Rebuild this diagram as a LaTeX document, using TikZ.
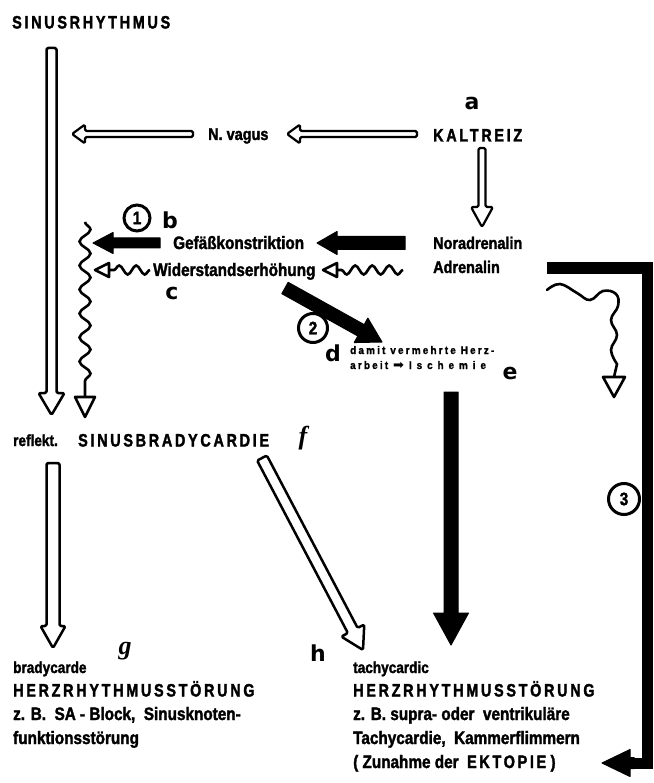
\documentclass[tikz,border=0pt]{standalone}
\usepackage{fontspec}
\setmainfont{Liberation Sans Bold}[FakeStretch=0.85, FakeBold=1.8]
\newfontfamily\lowfont{Liberation Sans Bold}[FakeStretch=0.85, FakeBold=1.8]
\newfontfamily\capsfont{Liberation Sans Bold}[FakeStretch=0.8, LetterSpace=15, FakeBold=1.8]
\newfontfamily\tinyfont{Liberation Sans Bold}[FakeStretch=0.9, LetterSpace=20, FakeBold=1.5]
\newfontfamily\widefont{Liberation Sans Bold}[FakeStretch=0.9, LetterSpace=45, FakeBold=1.5]
\newfontfamily\symfont{DejaVu Sans}
\newfontfamily\markfont{DejaVu Sans Bold}
\newfontfamily\scriptmark{Liberation Serif Bold Italic}
\usetikzlibrary{calc,arrows.meta,decorations.pathmorphing}

% block arrow: [style]{tail}{tip}{half shaft}{half head}{head length}
\newcommand\blockarrow[6][]{%
  \coordinate (hb) at ($(#3)!#6!(#2)$);
  \path[#1] ($(#2)!#4!90:(#3)$) -- ($(hb)!#4!90:(#3)$) -- ($(hb)!#5!90:(#3)$) -- (#3)
    -- ($(hb)!#5!-90:(#3)$) -- ($(hb)!#4!-90:(#3)$) -- ($(#2)!#4!-90:(#3)$) -- cycle;
}
% open triangular head: {base centre}{tip}{half width}
\newcommand\openhead[3]{%
  \draw[line width=2.6pt, fill=white, line join=round]
    ($(#1)!#3!90:(#2)$) -- (#2) -- ($(#1)!#3!-90:(#2)$) -- cycle;
}

\tikzset{
  hollow/.style={draw=black, fill=white, line width=2.2pt, line join=round, rounded corners=1.5pt},
  solidarr/.style={draw=black, fill=black, line width=1pt, line join=round},
  wavy/.style={line width=2.6pt, decorate},
  capsT/.style={inner sep=0pt, anchor=base west, font=\capsfont\fontsize{18}{20}\selectfont},
  lowT/.style={inner sep=0pt, anchor=base west, font=\lowfont\fontsize{18}{20}\selectfont},
  midT/.style={inner sep=0pt, anchor=base west, font=\lowfont\fontsize{16}{18}\selectfont},
  tinyT/.style={inner sep=0pt, anchor=base west, font=\tinyfont\fontsize{11}{12}\selectfont},
  lettermark/.style={inner sep=0pt, font=\markfont\fontsize{22}{22}\selectfont},
  scriptlbl/.style={inner sep=0pt, font=\scriptmark\fontsize{26}{26}\selectfont},
  numcirc/.style={circle, draw, line width=3pt, inner sep=0pt, font=\lowfont\fontsize{18}{18}\selectfont},
}

\begin{document}
\begin{tikzpicture}[x=1pt,y=-1pt]
\useasboundingbox (0,0) rectangle (653,783);

% ---- texts ----
\node[capsT] (sinus) at (12,28.5) {SINUSRHYTHMUS};
\node[lowT, font=\lowfont\fontsize{17}{18}\selectfont] (vagus) at (208,140) {N. vagus};
\node[capsT] (kalt) at (433,141.5) {KALTREIZ};
\node[lowT, font=\lowfont\fontsize{17}{18}\selectfont] (nora) at (433,249) {Noradrenalin};
\node[lowT, font=\lowfont\fontsize{17}{18}\selectfont] (adre) at (433,273) {Adrenalin};
\node[lowT] (gefa) at (173,249) {Gefäßkonstriktion};
\node[lowT] (wider) at (153,276) {Widerstandserhöhung};
\node[tinyT] (damit) at (350,354) {damit vermehrte Herz-};
\node[tinyT] (arbeit) at (350,369) {arbeit {\symfont\fontsize{13}{13}\selectfont ➡} {\widefont Ischemie}};
\node[midT] (reflekt) at (13,446) {reflekt.};
\node[capsT] (brady) at (78,446.5) {SINUSBRADYCARDIE};

\node[midT] (bradyL) at (13,673) {bradycarde};
\node[capsT] (herzL) at (13,696.5) {HERZRHYTHMUSSTÖRUNG};
\node[lowT] (zbL) at (13,720) {z. B.\ \ SA - Block,\ \ Sinusknoten-};
\node[lowT] (funkL) at (13,744) {funktionsstörung};

\node[midT] (tachyR) at (353,673) {tachycardic};
\node[capsT] (herzR) at (353,696.5) {HERZRHYTHMUSSTÖRUNG};
\node[lowT] (zbR) at (353,720) {z. B. supra- oder\ \ ventrikuläre};
\node[lowT] (tachyK) at (353,744) {Tachycardie,\ \ Kammerflimmern};
\node[lowT] (zun) at (353,768) {( Zunahme der\ \ {\capsfont EKTOPIE} )};

% ---- letter marks ----
\node[lettermark] (la) at (472,103) {a};
\node[lettermark] (lb) at (170,220) {b};
\node[lettermark] (lc) at (172,293) {c};
\node[lettermark] (ld) at (333,353) {d};
\node[lettermark] (le) at (510,373) {e};
\node[scriptlbl] (lf) at (303,438) {f};
\node[scriptlbl] (lg) at (125,651) {g};
\node[lettermark] (lh) at (318,653) {h};

% ---- circled numbers ----
\node[numcirc, minimum size=26pt] (n1) at (137,218) {1};
\node[numcirc, minimum size=29pt] (n2) at (313,328) {2};
\node[numcirc, minimum size=31pt] (n3) at (624,499) {3};

% ---- connector end points ----
\coordinate (sinusTail) at (51.5,48);
\coordinate (sinusTip) at (51.5,415);
\coordinate (vagTail) at (193,134);
\coordinate (vagTip) at (72,134);
\coordinate (kaltTail) at (417,134);
\coordinate (kaltTip) at (287,134);
\coordinate (downTail) at (482,148);
\coordinate (downTip) at (482,227);
\coordinate (gefLTail) at (160,243);
\coordinate (gefLTip) at (93,243);
\coordinate (noraTail) at (405,243);
\coordinate (noraTip) at (317,243);
\coordinate (diagTail) at (285,288);
\coordinate (diagTip) at (382,342);
\coordinate (ischTail) at (451,392);
\coordinate (ischTip) at (451,645);
\coordinate (bradyTail) at (53,463);
\coordinate (bradyTip) at (53,648);
\coordinate (tachTail) at (262,458);
\coordinate (tachTip) at (363,650);
\coordinate (br1) at (547,268);
\coordinate (br2) at (647,268);
\coordinate (br3) at (647,763);
\coordinate (br4) at (632,763);
\coordinate (brTail) at (634,763);
\coordinate (brTip) at (602,763);

% ---- hollow block arrows ----
\blockarrow[hollow, line width=2.5pt]{sinusTail}{sinusTip}{5pt}{13pt}{22pt}
\blockarrow[hollow, line width=2.2pt]{vagTail}{vagTip}{3pt}{9.5pt}{13pt}
\blockarrow[hollow, line width=2.2pt]{kaltTail}{kaltTip}{3pt}{9.5pt}{13pt}
\blockarrow[hollow, line width=2.2pt]{downTail}{downTip}{3.5pt}{11pt}{20pt}
\blockarrow[hollow, line width=2.5pt]{bradyTail}{bradyTip}{6.5pt}{12.5pt}{22pt}
\blockarrow[hollow, line width=2.5pt]{tachTail}{tachTip}{5.5pt}{13pt}{22pt}

% ---- solid block arrows ----
\blockarrow[solidarr]{gefLTail}{gefLTip}{5pt}{10.5pt}{20pt}
\blockarrow[solidarr]{noraTail}{noraTip}{6.5pt}{11.5pt}{20pt}
\blockarrow[solidarr]{diagTail}{diagTip}{6.5pt}{14pt}{24pt}
\blockarrow[solidarr]{ischTail}{ischTip}{7pt}{17.5pt}{32pt}
\draw[line width=11pt, line join=miter] (br1) -- (br2) -- (br3) -- (br4);
\blockarrow[solidarr]{brTail}{brTip}{5.5pt}{13.5pt}{28pt}

% ---- wavy arrows ----
\coordinate (wLtop) at (85,222);
\coordinate (wLbase) at (85,397);
\coordinate (wLtip) at (85,417);
\coordinate (wH1a) at (150,270);
\coordinate (wH1base) at (109,270);
\coordinate (wH1tip) at (95,270);
\coordinate (wH2a) at (403,270);
\coordinate (wH2base) at (337,270);
\coordinate (wH2tip) at (323,270);
\coordinate (wRa) at (547,290);
\coordinate (wRbase) at (614,377);
\coordinate (wRtip) at (614,397);

\draw[wavy, decoration={snake, amplitude=5.5pt, segment length=24pt, post length=6pt}]
  (wLtop) -- (wLbase);
\openhead{wLbase}{wLtip}{10pt}
\draw[wavy, decoration={snake, amplitude=4.5pt, segment length=17pt, post length=3pt}]
  (wH1a) -- (wH1base);
\openhead{wH1base}{wH1tip}{7pt}
\draw[wavy, decoration={snake, amplitude=4.5pt, segment length=17pt, post length=3pt}]
  (wH2a) -- (wH2base);
\openhead{wH2base}{wH2tip}{7pt}
% wave running right, then turning down to the open tip
\draw[line width=2.6pt, line cap=round]
  plot[smooth, tension=0.7] coordinates {(547,290) (560,284) (577,293) (590,300) (603,291)
    (616,294) (618,306) (611,320) (617,335) (611,350) (617,364)} -- (wRbase);
\openhead{wRbase}{wRtip}{11pt}
\end{tikzpicture}
\end{document}
